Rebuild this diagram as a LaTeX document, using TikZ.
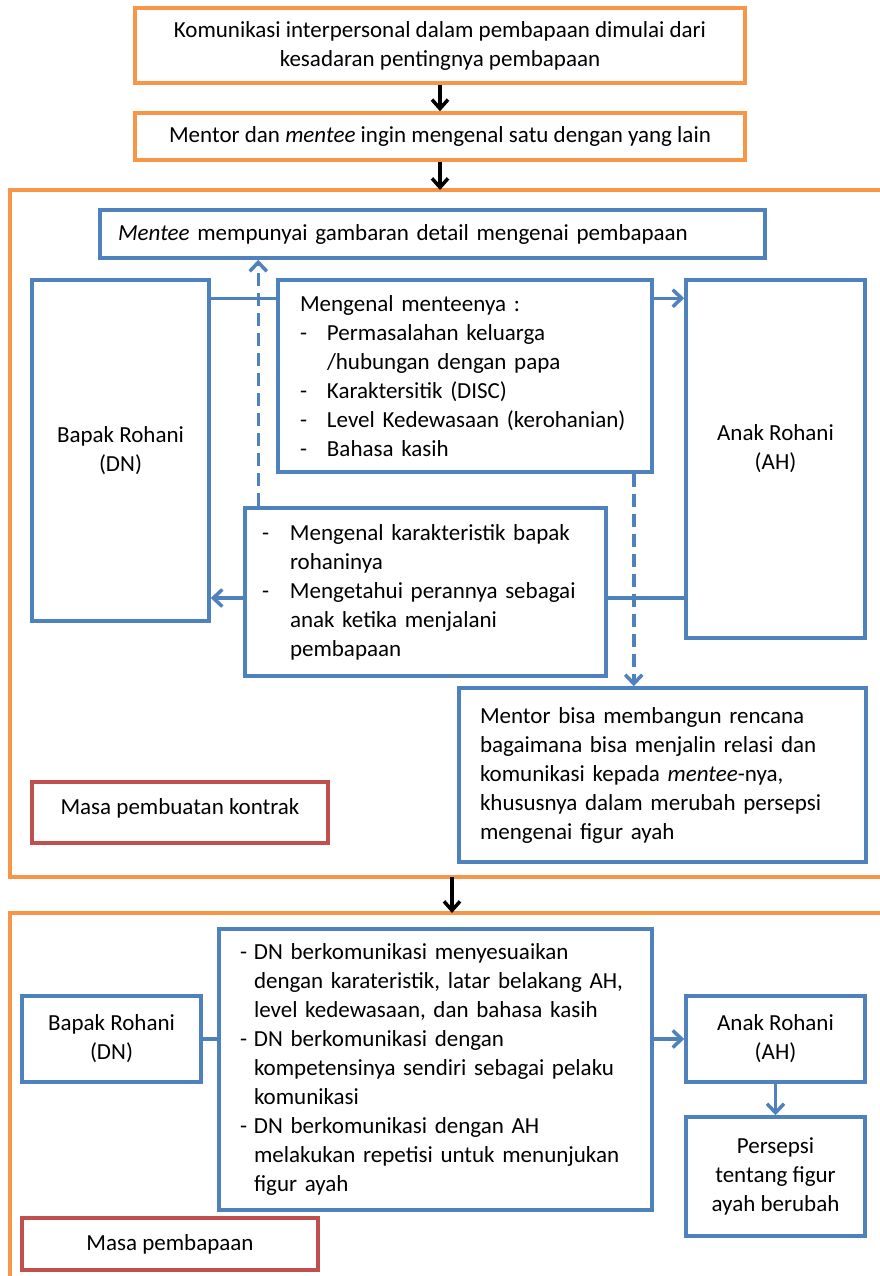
\documentclass[tikz,border=0pt]{standalone}
\usepackage{fontspec}
\setmainfont{Carlito}
\usepackage{tikz}
\usetikzlibrary{arrows.meta,positioning,calc,backgrounds}
\definecolor{orangeln}{HTML}{F79646}
\definecolor{blueln}{HTML}{4F81BD}
\definecolor{redln}{HTML}{C0504D}
\newcommand{\dashitem}[2][27pt]{\makebox[#1][l]{-}\mbox{#2}}
\newcommand{\contline}[2][27pt]{\hspace*{#1}\mbox{#2}}

\begin{document}
\begin{tikzpicture}[x=1pt,y=-1pt,
  font=\fontsize{23}{29}\selectfont,
  obox/.style={rectangle, draw=orangeln, line width=3.5pt, fill=white, inner sep=0pt, align=center},
  bbox/.style={rectangle, draw=blueln, line width=3.5pt, fill=white, inner sep=0pt, align=center},
  rbox/.style={rectangle, draw=redln, line width=3.5pt, fill=white, inner sep=0pt, align=center},
  stage/.style={draw=orangeln, line width=3.5pt},
  arr/.style={-{Straight Barb[length=9pt,width=17pt]}, line width=3.5pt, color=blueln},
  darr/.style={arr, dash pattern=on 13pt off 7pt},
  karr/.style={-{Straight Barb[length=9pt,width=16pt]}, line width=3.5pt, color=black},
]
  \useasboundingbox (0,0) rectangle (880,1276);

  \node[obox, minimum width=610, minimum height=75](start) at (440,45.5)
    {Komunikasi interpersonal dalam pembapaan dimulai dari\\kesadaran pentingnya pembapaan};
  \node[obox, minimum width=610, minimum height=47](kenal) at (440,136.5)
    {Mentor dan \textit{mentee} ingin mengenal satu dengan yang lain};
  \draw[karr](start)--(kenal);

  \draw[stage](895,190)--(10,190)--(10,877)--(895,877);
  \coordinate (s1top) at (440,190);
  \draw[karr](kenal)--(s1top);

  \node[bbox, minimum width=665, minimum height=48, text width=629, align=left](mentee) at (432.5,234)
    {\textit{Mentee} mempunyai gambaran detail mengenai pembapaan};
  \node[bbox, minimum width=177, minimum height=341](dn1) at (120.5,450.5) {Bapak Rohani\\(DN)};
  \node[bbox, minimum width=179, minimum height=358](ah1) at (775.5,459) {Anak Rohani\\(AH)\\[-5pt]};
  \node[bbox, minimum width=374, minimum height=192, text width=330, align=left](meng) at (465,376)
    {\mbox{Mengenal menteenya :}\\
     \dashitem{Permasalahan keluarga}\\
     \contline{/hubungan dengan papa}\\
     \dashitem{Karaktersitik (DISC)}\\
     \dashitem{Level Kedewasaan (kerohanian)}\\
     \dashitem{Bahasa kasih}};
  \node[bbox, minimum width=361, minimum height=168, text width=327, align=left](kar) at (425.5,592)
    {\dashitem[28pt]{Mengenal karakteristik bapak}\\
     \contline[28pt]{rohaninya}\\
     \dashitem[28pt]{Mengetahui perannya sebagai}\\
     \contline[28pt]{anak ketika menjalani}\\
     \contline[28pt]{pembapaan}};
  \node[bbox, minimum width=407, minimum height=174, text width=365, align=left](rencana) at (662.5,775)
    {\mbox{Mentor bisa membangun rencana}\\
     \mbox{bagaimana bisa menjalin relasi dan}\\
     \mbox{komunikasi kepada \textit{mentee}-nya,}\\
     \mbox{khususnya dalam merubah persepsi}\\
     \mbox{mengenai figur ayah}};
  \node[rbox, minimum width=296, minimum height=61](kontrak) at (180,812.5) {Masa pembuatan kontrak\\[-17pt]};

  \begin{scope}[on background layer]
    \coordinate (k) at (0,598);
    \draw[arr]([yshift=-20pt]dn1.north east)--([yshift=-20pt]ah1.north west);
    \draw[arr](ah1.west |- k)--(dn1.east |- k);
  \end{scope}
  \draw[darr]([xshift=15pt]kar.north west)--([xshift=15pt]kar.north west |- mentee.south);
  \draw[darr]([xshift=-20pt]meng.south east)--([xshift=-20pt]meng.south east |- rencana.north);

  \draw[stage](895,913)--(10,913)--(10,1290);
  \coordinate (s1bot) at (452,877);
  \coordinate (s2top) at (452,913);
  \draw[karr](s1bot)--(s2top);

  \node[bbox, minimum width=179, minimum height=86](dn2) at (111.5,1039) {Bapak Rohani\\(DN)};
  \node[bbox, minimum width=179, minimum height=86](ah2) at (775.5,1039) {Anak Rohani\\(AH)};
  \node[bbox, minimum width=433, minimum height=281, text width=391, align=left](komun) at (435.5,1069.5)
    {\dashitem[14pt]{DN berkomunikasi menyesuaikan}\\
     \contline[14pt]{dengan karateristik, latar belakang AH,}\\
     \contline[14pt]{level kedewasaan, dan bahasa kasih}\\
     \dashitem[14pt]{DN berkomunikasi dengan}\\
     \contline[14pt]{kompetensinya sendiri sebagai pelaku}\\
     \contline[14pt]{komunikasi}\\
     \dashitem[14pt]{DN berkomunikasi dengan AH}\\
     \contline[14pt]{melakukan repetisi untuk menunjukan}\\
     \contline[14pt]{figur ayah}};
  \node[bbox, minimum width=179, minimum height=119](persepsi) at (775.5,1176.5)
    {Persepsi\\tentang figur\\ayah berubah};
  \node[rbox, minimum width=296, minimum height=52](pembapaan) at (170,1244) {Masa pembapaan};

  \begin{scope}[on background layer]
    \draw[arr](dn2)--(ah2);
  \end{scope}
  \draw[arr](ah2)--(persepsi);
\end{tikzpicture}
\end{document}
